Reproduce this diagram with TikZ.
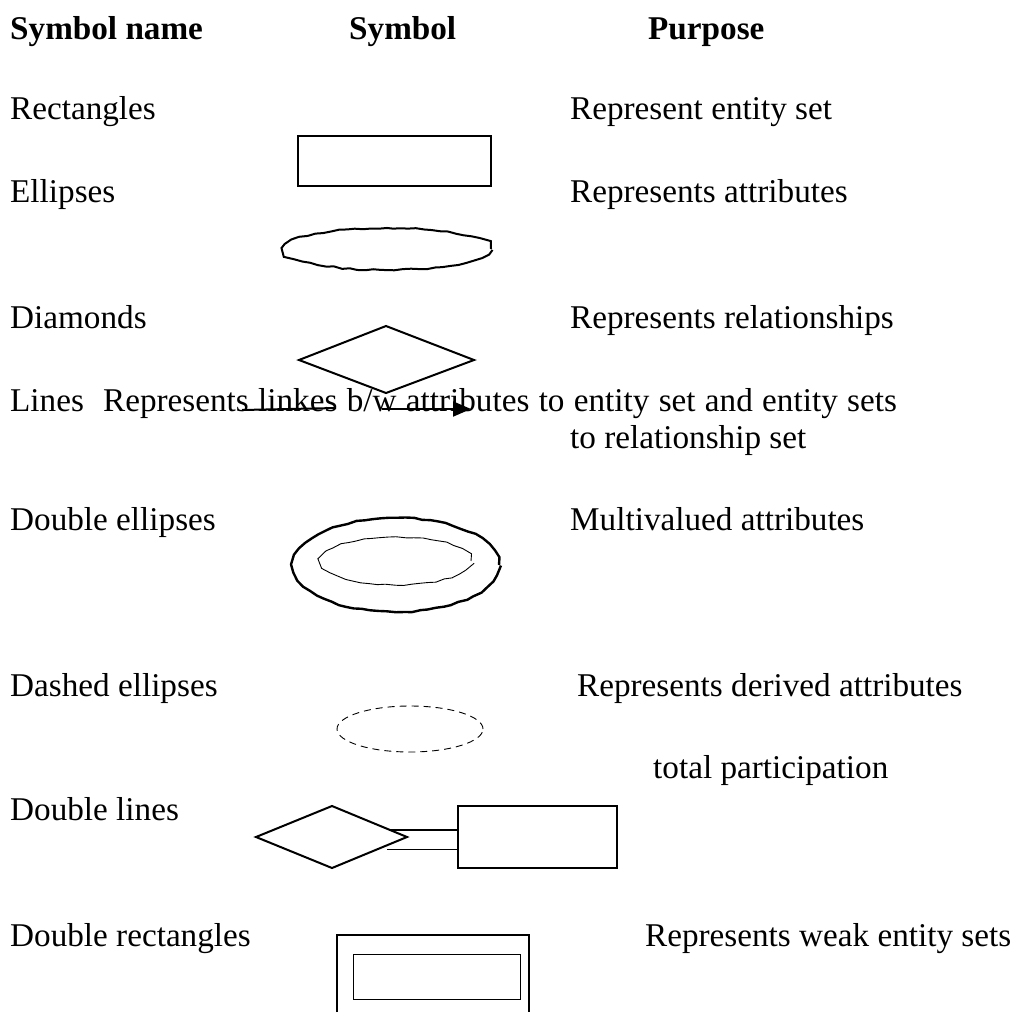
\documentclass[tikz,border=0pt]{standalone}
\usepackage{fontspec}
\setmainfont{Liberation Serif}
\usetikzlibrary{arrows.meta,decorations.pathmorphing}
\begin{document}
\begin{tikzpicture}[x=1pt,y=-1pt,
  txt/.style={anchor=base west,inner sep=0pt,font=\fontsize{33.2}{40}\selectfont},
  head/.style={anchor=base west,inner sep=0pt,font=\fontsize{33.2}{40}\selectfont\bfseries},
  bold line/.style={draw=black,line width=2pt},
  thin line/.style={draw=black,line width=0.9pt},
  wavy/.style={decorate,decoration={random steps,segment length=8pt,amplitude=0.8pt}},
  boxnode/.style={draw=black,line width=2pt,inner sep=0pt,minimum width=#1},
  boxnode/.default=10pt]
\useasboundingbox (0,0) rectangle (1020,1012);
\pgfmathsetseed{7}

% column headings
\node[head] (h1) at (10,39) {Symbol name};
\node[head] (h2) at (349,39) {Symbol};
\node[head] (h3) at (648,39) {Purpose};

% rows: names and purposes
\node[txt] (n1) at (10,119) {Rectangles};
\node[txt] (p1) at (570,119) {Represent entity set};
\node[txt] (n2) at (10,202) {Ellipses};
\node[txt] (p2) at (570,202) {Represents attributes};
\node[txt] (n3) at (10,328) {Diamonds};
\node[txt] (p3) at (570,328) {Represents relationships};
\node[txt] (n4) at (10,411) {Lines};
\node[txt] (p4) at (103,411) {\spaceskip=9.3pt Represents linkes b/w attributes to entity set and entity sets};
\node[txt] (p4b) at (570,448) {to relationship set};
\node[txt] (n5) at (10,530) {Double ellipses};
\node[txt] (p5) at (570,530) {Multivalued attributes};
\node[txt] (n6) at (10,696) {Dashed ellipses};
\node[txt] (p6) at (577,696) {Represents derived attributes};
\node[txt] (p7) at (653,778) {total participation};
\node[txt] (n7) at (10,820) {Double lines};
\node[txt] (n8) at (10,946) {Double rectangles};
\node[txt] (p8) at (645,946) {Represents weak entity sets};

% rectangle
\node[boxnode=193pt,minimum height=50pt] (rect) at (394.5,161) {};

% ellipse (hand-drawn outline)
\draw[bold line,wavy] (387,249) ellipse [x radius=104pt,y radius=21pt];

% diamond
\coordinate (dw) at (299,360);
\coordinate (dn) at (386,326);
\coordinate (de) at (474,360);
\coordinate (ds) at (386,393);
\draw[bold line] (dw) -- (dn) -- (de) -- (ds) -- cycle;

% lines
\coordinate (l1a) at (242,410);
\coordinate (l1b) at (336,408);
\coordinate (l2a) at (382,409);
\coordinate (l2b) at (471,409);
\draw[bold line] (l1a) -- (l1b);
\draw[bold line,-{Triangle[length=18pt,width=15pt]}] (l2a) -- (l2b);

% double ellipse
\draw[draw=black,line width=2.4pt,wavy] (396,565) ellipse [x radius=103pt,y radius=47pt];
\draw[thin line,wavy] (396,561) ellipse [x radius=75pt,y radius=24pt];

% dashed ellipse
\draw[thin line,dash pattern=on 7pt off 5pt] (410,729) ellipse [x radius=73pt,y radius=23pt];

% double lines: relationship to entity
\coordinate (qw) at (256,837);
\coordinate (qn) at (332,806);
\coordinate (qe) at (407,837);
\coordinate (qs) at (332,868);
\draw[bold line] (qw) -- (qn) -- (qe) -- (qs) -- cycle;
\node[boxnode=159pt,minimum height=62pt] (erect) at (537.5,837) {};
\coordinate (t1) at (390,830);
\coordinate (t2) at (387,849);
\draw[bold line] (t1) -- (t1 -| erect.west);
\draw[thin line] (t2) -- (t2 -| erect.west);

% double rectangle
\coordinate (wbl) at (337,1012);
\coordinate (wtl) at (337,935);
\coordinate (wtr) at (529,935);
\coordinate (wbr) at (529,1012);
\draw[bold line] (wbl) -- (wtl) -- (wtr) -- (wbr);
\node[draw=black,line width=1pt,inner sep=0pt,minimum width=167pt,minimum height=45pt] (wrect) at (436.5,976.5) {};
\end{tikzpicture}
\end{document}
